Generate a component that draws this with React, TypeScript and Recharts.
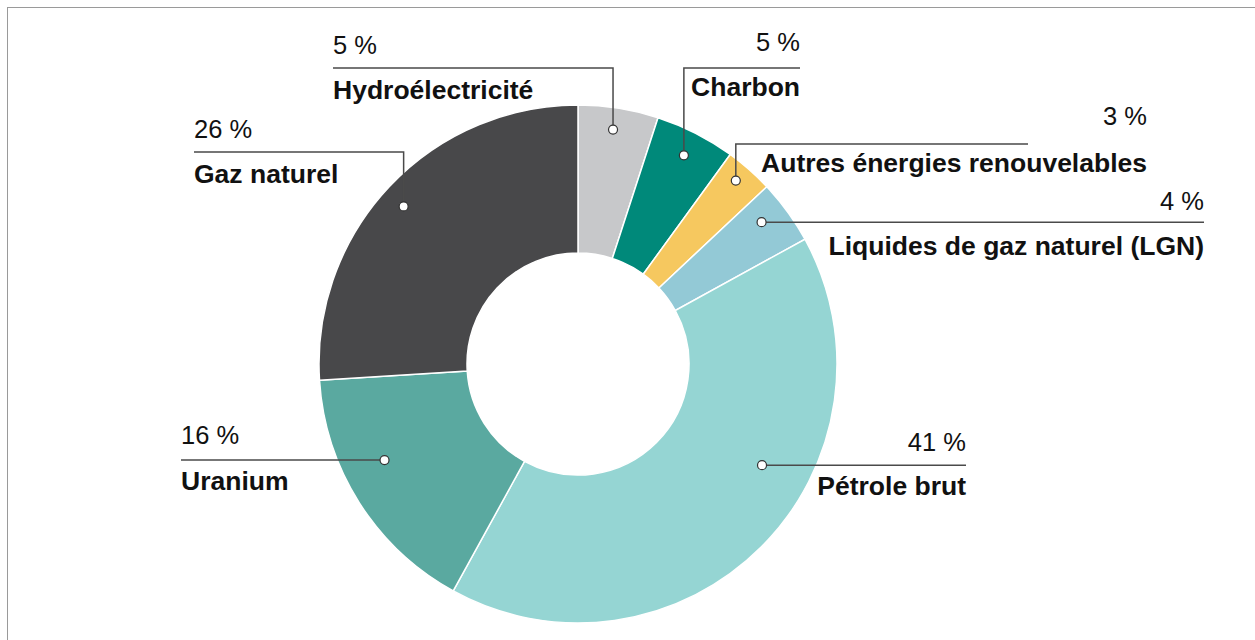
import React from "react";
import { PieChart, Pie, Cell } from "recharts";

// energy mix, shares in percent, clockwise from 12 o'clock
const categories = [
  "Hydroélectricité",
  "Charbon",
  "Autres énergies renouvelables",
  "Liquides de gaz naturel (LGN)",
  "Pétrole brut",
  "Uranium",
  "Gaz naturel",
];
const shares = [5, 5, 3, 4, 41, 16, 26];
const colors = ["#c7c8ca", "#00897a", "#f6c85f", "#93c9d6", "#95d5d3", "#5aa9a0", "#48484a"];

const data = categories.map((name, i) => ({ name, value: shares[i] }));

// label placement, relative to the pie centre
// shift: clockwise offset of the dot from the slice mid angle (deg), r: dot radius
// elbowY: y of the horizontal leader (null = straight from the dot), endX: end of the leader
const labelLayout = [
  { shift: -0.5, r: 237, elbowY: -296, endX: -245, textX: -245, anchor: "start", pctDy: -14, nameDy: 31 },
  { shift: -0.1, r: 234, elbowY: -296, endX: 222, textX: 222, anchor: "end", pctDy: -17, nameDy: 28 },
  { shift: -0.7, r: 242, elbowY: -220, endX: 450, textX: 569, anchor: "end", pctDy: -19, nameDy: 28 },
  { shift: -1.7, r: 232, elbowY: null, endX: 626, textX: 626, anchor: "end", pctDy: -12, nameDy: 33 },
  { shift: -16.2, r: 210, elbowY: null, endX: 388, textX: 388, anchor: "end", pctDy: -14, nameDy: 30 },
  { shift: 6, r: 216, elbowY: null, endX: -397, textX: -397, anchor: "start", pctDy: -16, nameDy: 30 },
  { shift: -1.1, r: 235, elbowY: -212, endX: -384, textX: -384, anchor: "start", pctDy: -14, nameDy: 31 },
];

const RAD = Math.PI / 180;
const FONT = "'Liberation Sans', Arial, Helvetica, sans-serif";

const renderLabel = (props: any) => {
  const { cx, cy, midAngle, index } = props;
  const l = labelLayout[index];
  const a = (midAngle - l.shift) * RAD;
  const dx = cx + l.r * Math.cos(a);
  const dy = cy - l.r * Math.sin(a);
  const lineY = l.elbowY === null ? dy : cy + l.elbowY;
  const path =
    l.elbowY === null
      ? `M${dx},${dy} H${cx + l.endX}`
      : `M${dx},${dy} V${lineY} H${cx + l.endX}`;
  const tx = cx + l.textX;
  return (
    <g key={`lbl-${index}`}>
      <path d={path} fill="none" stroke="#4a4a4a" strokeWidth={1.5} />
      <circle cx={dx} cy={dy} r={4.5} fill="#fff" stroke="#333" strokeWidth={1.2} />
      <text x={tx} y={lineY + l.pctDy} textAnchor={l.anchor} fontFamily={FONT} fontSize={25.5} fill="#111">
        {shares[index]} %
      </text>
      <text x={tx} y={lineY + l.nameDy} textAnchor={l.anchor} fontFamily={FONT} fontSize={26.5} fontWeight="bold" fill="#111">
        {categories[index]}
      </text>
    </g>
  );
};

export default function App() {
  return (
    <div
      style={{
        position: "fixed",
        left: 7,
        top: 7,
        width: 1260,
        height: 640,
        overflow: "hidden",
        borderTop: "1px solid #9a9a9a",
        borderLeft: "1px solid #9a9a9a",
        background: "#fff",
      }}
    >
      <PieChart width={1260} height={640} margin={{ top: 0, right: 0, bottom: 0, left: 0 }}>
        <Pie
          data={data}
          dataKey="value"
          nameKey="name"
          cx={570}
          cy={356}
          innerRadius={111}
          outerRadius={259}
          startAngle={90}
          endAngle={-270}
          stroke="#fff"
          strokeWidth={1.5}
          labelLine={false}
          label={renderLabel}
          isAnimationActive={false}
        >
          {data.map((entry, i) => (
            <Cell key={`cell-${i}`} fill={colors[i]} />
          ))}
        </Pie>
      </PieChart>
    </div>
  );
}
